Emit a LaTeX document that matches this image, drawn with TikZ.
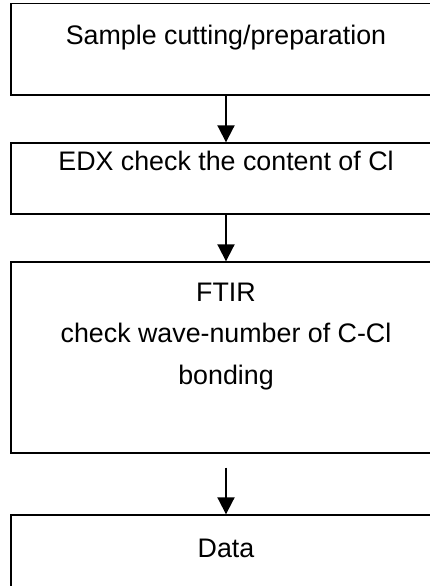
\documentclass[tikz,border=0pt]{standalone}
\usepackage{fontspec}
\setmainfont{Liberation Sans}
\usetikzlibrary{arrows.meta}

\begin{document}
\begin{tikzpicture}[x=1pt,y=-1pt]
\def\l{17pt}
\def\w{17pt}
\def\t{1.4pt}
\def\bw{430pt}
\def\fs{\fontsize{26.8}{41.5}\selectfont}
\useasboundingbox (0,0) rectangle (430,586);
\clip (0,0) rectangle (430,586);

\node [draw,black,rectangle,line width=\t,inner sep=0pt,minimum width=\bw,minimum height=91.5pt,name=b1] at (226,49.25) {};
\node [draw,black,rectangle,line width=\t,inner sep=0pt,minimum width=\bw,minimum height=71pt,name=b2]   at (226,178.5) {};
\node [draw,black,rectangle,line width=\t,inner sep=0pt,minimum width=\bw,minimum height=191pt,name=b3]  at (226,357.5) {};
\node [draw,black,rectangle,line width=\t,inner sep=0pt,minimum width=\bw,minimum height=100pt,name=b4]  at (226,565) {};

\node [anchor=base,inner sep=0pt,font=\fs,name=t1] at (226,45) {Sample cutting/preparation};
\node [anchor=base,inner sep=0pt,font=\fs,name=t2] at (226,170) {EDX check the content of Cl};
\node [anchor=base,inner sep=0pt,font=\fs,align=center,name=t3] at (226,384) {FTIR\\check wave-number of C-Cl\\bonding};
\node [anchor=base,inner sep=0pt,font=\fs,name=t4] at (226,557) {Data};

\draw [line width=2pt,-{Triangle[length=\l, width=\w]}](b1) to (b2);
\draw [line width=2pt,-{Triangle[length=\l, width=\w]}](b2) to (b3);
\draw [line width=2pt,shorten <=14pt,-{Triangle[length=\l, width=\w]}](b3) to (b4);
\end{tikzpicture}
\end{document}
